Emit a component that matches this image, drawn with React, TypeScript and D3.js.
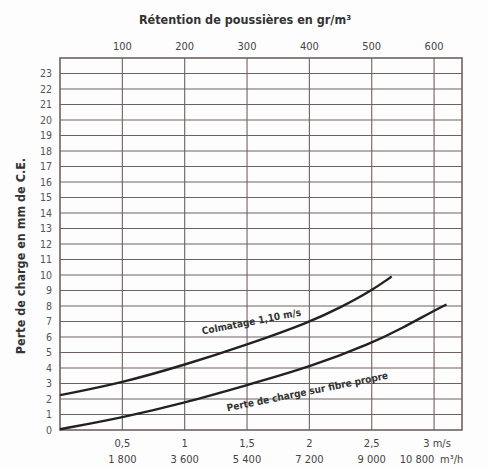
import * as d3 from "d3";
import React from "react";

// values
const velocityTicks = [0.5, 1, 1.5, 2, 2.5, 3];
const velocityLabels = ["0,5", "1", "1,5", "2", "2,5", "3 m/s"];
const flowLabels = ["1 800", "3 600", "5 400", "7 200", "9 000", "10 800"];
const retentionLabels = ["100", "200", "300", "400", "500", "600"];
const pressureTicks = d3.range(0, 24);

const colmatageX = [0, 0.5, 1, 1.5, 2, 2.25, 2.5, 2.66];
const colmatageY = [2.25, 3.05, 4.2, 5.5, 6.95, 7.9, 9.0, 9.9];
const propreX = [0, 0.5, 1, 1.5, 2, 2.5, 2.75, 3, 3.1];
const propreY = [0.05, 0.8, 1.75, 2.9, 4.05, 5.6, 6.6, 7.7, 8.1];

const W = 487;
const H = 466;
const margin = { top: 58, right: 25, bottom: 36, left: 60 };
const font = "'Liberation Sans Narrow', 'DejaVu Sans Condensed', 'Liberation Sans', Arial, sans-serif";
const gridColor = "#6e625e";

export default function App() {
	const x = d3.scaleLinear().domain([0, 3.224]).range([margin.left, W - margin.right]);
	const y = d3.scaleLinear().domain([0, 24]).range([H - margin.bottom, margin.top]);

	// basis spline keeps the hand-drawn curves smooth
	const line = d3
		.line<[number, number]>()
		.x((d) => x(d[0]))
		.y((d) => y(d[1]))
		.curve(d3.curveBasis);

	const colmatage = colmatageX.map((v, i) => [v, colmatageY[i]] as [number, number]);
	const propre = propreX.map((v, i) => [v, propreY[i]] as [number, number]);

	return (
		<svg
			width={W}
			height={H}
			style={{ position: "absolute", left: 0, top: 0, background: "#fdfdfd" }}
			fontFamily={font}
		>
			{/* horizontal grid */}
			{pressureTicks.slice(1).map((t) => (
				<line
					key={"h" + t}
					x1={x(0)}
					x2={x(3.224)}
					y1={y(t)}
					y2={y(t)}
					stroke={gridColor}
					strokeWidth={1.1}
				/>
			))}
			{/* vertical grid */}
			{velocityTicks.map((t) => (
				<line
					key={"v" + t}
					x1={x(t)}
					x2={x(t)}
					y1={y(0)}
					y2={y(24)}
					stroke={gridColor}
					strokeWidth={1.1}
				/>
			))}
			<rect
				x={x(0)}
				y={y(24)}
				width={x(3.224) - x(0)}
				height={y(0) - y(24)}
				fill="none"
				stroke={gridColor}
				strokeWidth={1.6}
			/>

			{/* y tick labels */}
			{pressureTicks.map((t) => (
				<text
					key={"yl" + t}
					x={x(0) - 8}
					y={y(t)}
					dy="0.35em"
					textAnchor="end"
					fontSize={10.5}
					fill="#555"
				>
					{t}
				</text>
			))}

			{/* bottom labels */}
			{velocityTicks.map((t, i) => (
				<g key={"b" + t}>
					<text
						x={x(t) + (i === 5 ? 3 : 0)}
						y={H - 19}
						textAnchor="middle"
						fontSize={11}
						fill="#444"
					>
						{velocityLabels[i]}
					</text>
					<text
						x={i === 5 ? x(t) - 17 : x(t)}
						y={H - 3}
						textAnchor="middle"
						fontSize={11}
						fill="#444"
					>
						{flowLabels[i]}
					</text>
				</g>
			))}
			<text x={x(3) + 6} y={H - 3} fontSize={11} fill="#444">
				m³/h
			</text>

			{/* top labels */}
			{velocityTicks.map((t, i) => (
				<text
					key={"t" + t}
					x={x(t)}
					y={margin.top - 8}
					textAnchor="middle"
					fontSize={11}
					fill="#444"
				>
					{retentionLabels[i]}
				</text>
			))}
			<text
				x={245}
				y={24}
				textAnchor="middle"
				fontSize={12.5}
				fontWeight="bold"
				fill="#333"
			>
				Rétention de poussières en gr/m³
			</text>
			<text
				transform={`translate(25,${256}) rotate(-90)`}
				textAnchor="middle"
				fontSize={12.5}
				fontWeight="bold"
				fill="#333"
			>
				Perte de charge en mm de C.E.
			</text>

			{/* curves */}
			<path d={line(colmatage) ?? ""} fill="none" stroke="#222" strokeWidth={2.4} />
			<path d={line(propre) ?? ""} fill="none" stroke="#222" strokeWidth={2.4} />

			<text
				transform={`translate(252,325) rotate(-11)`}
				textAnchor="middle"
				fontSize={10}
				fontWeight="bold"
				fill="#333"
			>
				Colmatage 1,10 m/s
			</text>
			<text
				transform={`translate(308,395) rotate(-11.5)`}
				textAnchor="middle"
				fontSize={10}
				fontWeight="bold"
				fill="#333"
			>
				Perte de charge sur fibre propre
			</text>
		</svg>
	);
}
